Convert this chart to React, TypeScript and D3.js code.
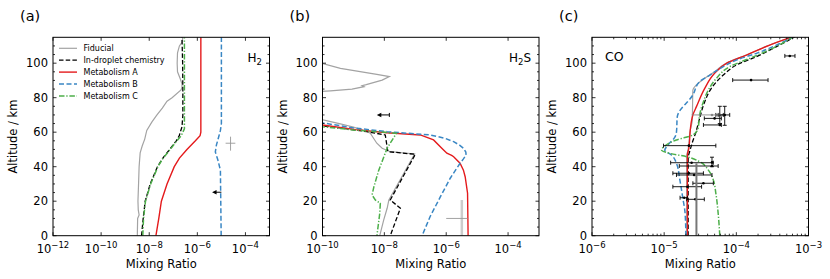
import * as d3 from "d3";
import React from "react";

type Pt = [number, number]; // [altitude km, mixing ratio]

// ---- H2 profiles (panel a) ----
const h2Fiducial: Pt[] = [
  [0, 3.2e-9], [10, 3.3e-9], [12, 3.8e-9], [15, 3.5e-9], [20, 3.4e-9], [30, 3.6e-9],
  [40, 3.8e-9], [48, 4.2e-9], [52, 5.1e-9], [56, 6.5e-9], [61, 7.9e-9], [66, 1.3e-8],
  [70, 2.1e-8], [74, 3.5e-8], [78, 5.5e-8], [80, 8.9e-8], [84.5, 2.1e-7], [86, 2.3e-7],
  [88, 2.3e-7], [91, 1.95e-7], [95, 1.5e-7], [100, 1.45e-7], [106, 1.5e-7], [110, 1.8e-7],
  [112, 2.3e-7], [115, 2.5e-7],
];
const h2Droplet: Pt[] = [
  [0, 4.8e-9], [10, 5.6e-9], [20, 6.8e-9], [30, 1.1e-8], [40, 2.2e-8], [45, 3.7e-8],
  [50, 7.1e-8], [55, 1.33e-7], [58, 1.78e-7], [60, 1.95e-7], [63, 2.3e-7], [70, 2.5e-7],
  [85, 2.5e-7], [100, 2.45e-7], [115, 2.3e-7],
];
const h2MetA: Pt[] = [
  [0, 1.9e-8], [10, 2.5e-8], [20, 3.2e-8], [30, 5.5e-8], [40, 1.1e-7], [45, 1.8e-7],
  [50, 3.7e-7], [55, 8.3e-7], [58, 1.3e-6], [60, 1.4e-6], [115, 1.4e-6],
];
const h2MetB: Pt[] = [
  [0, 9.8e-6], [38, 9.1e-6], [44, 7.1e-6], [48.5, 5.6e-6], [52.5, 6.2e-6], [57.5, 7.8e-6],
  [61, 9.1e-6], [65, 1.0e-5], [115, 1.0e-5],
];
const h2MetC: Pt[] = [
  [0, 5.4e-9], [10, 5.8e-9], [20, 7.0e-9], [30, 1.15e-8], [40, 2.3e-8], [45, 3.8e-8],
  [50, 7.5e-8], [55, 1.4e-7], [58, 2.15e-7], [62, 2.9e-7], [115, 2.9e-7],
];

// ---- H2S profiles (panel b) ----
const h2sFiducial: Pt[] = [
  [100.5, 7e-11], [97, 3.8e-10], [93.5, 5.7e-9], [92.2, 1.45e-8], [90.2, 8.5e-9],
  [87.6, 2.6e-9], [87, 1.9e-9], [86.4, 2.2e-9], [85, 9e-10], [84, 1.8e-10], [83.4, 7e-11],
  [75, 1e-11], [67.8, 7e-11], [65, 3.5e-10], [63, 1.0e-9], [60.5, 2.6e-9], [59.4, 3.5e-9],
  [53.6, 5.7e-9], [50.7, 8.5e-9], [48.7, 1.55e-8], [47.4, 9.5e-8], [20.7, 1.4e-8],
  [15.9, 1.23e-8], [9, 9.5e-9], [0, 7.1e-9],
];
const h2sDroplet: Pt[] = [
  [64.6, 7e-11], [63.6, 1.1e-10], [62.5, 3.8e-10], [60.3, 2.75e-9], [58.4, 1.07e-8],
  [48.7, 1.3e-8], [47.2, 1.0e-7], [20.7, 1.55e-8], [15.9, 3.3e-8], [0, 1.55e-8],
];
const h2sMetA: Pt[] = [
  [64.5, 8e-11], [64.2, 1e-10], [61.5, 1.2e-9], [59.7, 1.23e-8], [58.4, 1.45e-7],
  [55.5, 3.9e-7], [50.7, 7.2e-7], [47.8, 1.05e-6], [46.5, 1.5e-6], [45.8, 1.74e-6],
  [42, 2.8e-6], [38, 3.6e-6], [34.2, 4.1e-6], [24.6, 4.9e-6], [0, 5.1e-6],
];
const h2sMetB: Pt[] = [
  [65.6, 8e-11], [65.4, 1e-10], [62.5, 1.0e-9], [60.3, 1.23e-8], [58.4, 3.0e-7],
  [56.5, 9e-7], [54.5, 1.74e-6], [52.5, 2.7e-6], [50.7, 3.6e-6], [48.5, 4.3e-6],
  [46.8, 4.4e-6], [44.5, 3.6e-6], [42, 2.8e-6], [33.3, 1.35e-6], [22.6, 6.5e-7],
  [11, 3.0e-7], [0, 1.66e-7],
];
const h2sMetC: Pt[] = [
  [63.6, 8e-11], [63.2, 1e-10], [61.3, 1.0e-9], [59.4, 2.45e-8], [50.7, 1.23e-8],
  [38, 6.6e-9], [28.4, 4.6e-9], [23.6, 4.0e-9], [20.7, 5.1e-9], [18.8, 7.4e-9],
  [13, 7.1e-9], [0, 5.75e-9],
];

// ---- CO profiles (panel c) ----
const coFiducial: Pt[] = [
  [0, 2.05e-5], [46, 2.05e-5], [50, 2.15e-5], [61, 2.3e-5], [67, 2.45e-5], [84.5, 2.5e-5],
  [87.4, 2.8e-5], [91.2, 3.65e-5], [95, 5.0e-5], [100, 7.2e-5], [104.7, 1.38e-4],
  [110.5, 2.9e-4], [115.5, 6.2e-4],
];
const coDroplet: Pt[] = [
  [0, 2.15e-5], [45, 2.15e-5], [50, 2.3e-5], [55, 2.5e-5], [60, 2.75e-5], [68, 3.1e-5],
  [77.7, 3.65e-5], [85.4, 4.5e-5], [93.1, 6.6e-5], [98.9, 1.0e-4], [103.8, 1.9e-4],
  [109.6, 3.6e-4], [115.5, 6.6e-4],
];
const coMetA: Pt[] = [
  [0, 2.1e-5], [28, 2.1e-5], [46.8, 2.1e-5], [50.7, 2.2e-5], [61.3, 2.3e-5], [67, 2.4e-5],
  [70, 2.5e-5], [74.8, 2.8e-5], [85.4, 3.65e-5], [94.1, 5.0e-5], [99.9, 7.3e-5],
  [104.7, 1.38e-4], [110.5, 2.9e-4], [115.5, 6.2e-4],
];
const coMetB: Pt[] = [
  [0, 2.0e-5], [13, 1.95e-5], [22.6, 1.8e-5], [32.3, 1.65e-5], [42, 1.48e-5],
  [46.8, 1.26e-5], [49.5, 1.02e-5], [53, 1.15e-5], [57, 1.4e-5], [60, 1.48e-5],
  [69, 1.52e-5], [81.6, 2.5e-5], [89.3, 3.1e-5], [93.1, 4.3e-5], [98, 6.6e-5],
  [101.8, 1.0e-4], [105.7, 1.9e-4], [110, 3.4e-4], [115.5, 6.3e-4],
];
const coMetC: Pt[] = [
  [0, 5.9e-5], [13, 5.6e-5], [24.6, 5.2e-5], [32.3, 4.8e-5], [38, 4.1e-5], [42.9, 3.1e-5],
  [45.8, 2.05e-5], [47.7, 1.2e-5], [49.7, 9.2e-6], [52, 1.02e-5], [55.5, 1.48e-5],
  [58.4, 2.5e-5], [62.2, 2.95e-5], [70, 3.1e-5], [77.7, 3.5e-5], [84.5, 4.1e-5],
  [91.2, 5.3e-5], [98, 8.1e-5], [102.8, 1.53e-4], [108.6, 3.2e-4], [115.5, 6.2e-4],
];

// observations: [altitude, value, xLo, xHi]
const coObs: [number, number, number, number][] = [
  [104.2, 5.5e-4, 4.7e-4, 6.5e-4],
  [90.2, 1.6e-4, 8.9e-5, 2.75e-4],
  [68, 5.0e-5, 3.6e-5, 6.2e-5],
  [64.2, 5.9e-5, 3.5e-5, 6.2e-5],
  [52.2, 2.2e-5, 9.8e-6, 5.2e-5],
  [42.3, 2.4e-5, 1.23e-5, 4.8e-5],
  [40.4, 4.6e-5, 1.62e-5, 5.6e-5],
  [36.2, 2.2e-5, 1.32e-5, 3.5e-5],
  [35.2, 2.6e-5, 1.48e-5, 4.6e-5],
  [30.4, 3.5e-5, 2.5e-5, 4.8e-5],
  [28.4, 2.1e-5, 1.32e-5, 3.3e-5],
  [22, 1.9e-5, 1.66e-5, 2.1e-5],
  [21.1, 2.7e-5, 2.05e-5, 3.6e-5],
];
// observations with altitude range: [altitude, value, altLo, altHi, xLo, xHi]
const coObsAlt: [number, number, number, number, number, number][] = [
  [70, 6.9e-5, 64, 75, 5.6e-5, 8.1e-5],
  [70, 5.9e-5, 65, 75, 5.2e-5, 6.6e-5],
  [42.5, 4.6e-5, 40, 45.5, 4.6e-5, 4.6e-5],
];

const legendNames = ["Fiducial", "In-droplet chemistry", "Metabolism A", "Metabolism B", "Metabolism C"];
const altMajor = [0, 20, 40, 60, 80, 100];

const GRAY = "#a3a3a3";
const RED = "#e41a1c";
const BLUE = "#3a87c4";
const GREEN = "#4daf4a";

const styles = [
  { color: GRAY, dash: undefined as string | undefined, width: 1.2 },
  { color: "#000", dash: "4.5,2.2", width: 1.3 },
  { color: RED, dash: undefined, width: 1.4 },
  { color: BLUE, dash: "5,2.5", width: 1.5 },
  { color: GREEN, dash: "5.5,1.8,1.3,1.8", width: 1.5 },
];

const TOP = 37.3;
const BOTTOM = 235.7;
const W = 216.5;
const FONT = "DejaVu Sans";

interface Bar {
  alt: number; x: number; xLo?: number; xHi?: number; altLo?: number; altHi?: number;
  color: string; width?: number; cap?: number; marker?: boolean;
}
interface Limit { alt: number; from: number; to: number; cap?: boolean }

interface PanelProps {
  left: number;
  domain: [number, number];
  labeled: number[];
  minors: number[];
  letter: string;
  species: React.ReactNode;
  series: Pt[][];
  bars?: Bar[];
  limits?: Limit[];
  legend?: boolean;
  smooth?: boolean;
}

function expLabel(v: number) {
  const e = Math.round(Math.log10(v));
  return (
    <>
      <tspan>10</tspan>
      <tspan dy={-5.5} fontSize={8.5}>{e < 0 ? `\u2212${-e}` : `${e}`}</tspan>
    </>
  );
}

function Panel({ left, domain, labeled, minors, letter, species, series, bars = [], limits = [], legend, smooth }: PanelProps) {
  const right = left + W;
  const x = d3.scaleLog().domain(domain).range([left, right]);
  const y = d3.scaleLinear().domain([0, 115]).range([BOTTOM, TOP]);
  const line = d3
    .line<Pt>()
    .x((d) => x(d[1]))
    .y((d) => y(d[0]))
    .curve(smooth ? d3.curveMonotoneY : d3.curveLinear);
  const clipId = `clip-${letter}`;
  const altMinor = d3.range(5, 115, 5).filter((v) => v % 20 !== 0);

  return (
    <g fontFamily={FONT}>
      <defs>
        <clipPath id={clipId}>
          <rect x={left} y={TOP} width={W} height={BOTTOM - TOP} />
        </clipPath>
      </defs>

      <g clipPath={`url(#${clipId})`}>
        {series.map((s, i) => (
          <path key={i} d={line(s) ?? ""} fill="none" stroke={styles[i].color}
            strokeWidth={styles[i].width} strokeDasharray={styles[i].dash} />
        ))}

        {bars.map((b, i) => {
          const cy = y(b.alt);
          const cx = x(b.x);
          const cap = b.cap ?? 0;
          const sw = b.width ?? 0.9;
          return (
            <g key={`bar-${i}`} stroke={b.color} strokeWidth={sw}>
              {b.xLo !== undefined && b.xHi !== undefined && b.xLo !== b.xHi && (
                <>
                  <line x1={x(b.xLo)} x2={x(b.xHi)} y1={cy} y2={cy} />
                  {cap > 0 && <line x1={x(b.xLo)} x2={x(b.xLo)} y1={cy - cap} y2={cy + cap} />}
                  {cap > 0 && <line x1={x(b.xHi)} x2={x(b.xHi)} y1={cy - cap} y2={cy + cap} />}
                </>
              )}
              {b.altLo !== undefined && b.altHi !== undefined && (
                <>
                  <line x1={cx} x2={cx} y1={y(b.altLo)} y2={y(b.altHi)} />
                  {cap > 0 && <line x1={cx - cap} x2={cx + cap} y1={y(b.altLo)} y2={y(b.altLo)} />}
                  {cap > 0 && <line x1={cx - cap} x2={cx + cap} y1={y(b.altHi)} y2={y(b.altHi)} />}
                </>
              )}
              {b.marker && <circle cx={cx} cy={cy} r={1.3} fill={b.color} stroke="none" />}
            </g>
          );
        })}

        {limits.map((l, i) => {
          const cy = y(l.alt);
          const x1 = x(l.from);
          const x2 = x(l.to);
          return (
            <g key={`lim-${i}`} stroke="#000" strokeWidth={1}>
              <line x1={x1} x2={x2 + 3} y1={cy} y2={cy} />
              <polygon points={`${x2},${cy} ${x2 + 4.5},${cy - 2.2} ${x2 + 4.5},${cy + 2.2}`} fill="#000" stroke="none" />
              {l.cap && <line x1={x1} x2={x1} y1={cy - 2} y2={cy + 2} />}
            </g>
          );
        })}
      </g>

      {/* frame */}
      <rect x={left} y={TOP} width={W} height={BOTTOM - TOP} fill="none" stroke="#000" strokeWidth={1} />

      {/* ticks, pointing inwards on all four sides */}
      <g stroke="#000" strokeWidth={0.8}>
        {labeled.map((t) => (
          <g key={`xt-${t}`}>
            <line x1={x(t)} x2={x(t)} y1={BOTTOM} y2={BOTTOM - 3.5} />
            <line x1={x(t)} x2={x(t)} y1={TOP} y2={TOP + 3.5} />
          </g>
        ))}
        {minors.map((t) => (
          <g key={`xm-${t}`}>
            <line x1={x(t)} x2={x(t)} y1={BOTTOM} y2={BOTTOM - 2} />
            <line x1={x(t)} x2={x(t)} y1={TOP} y2={TOP + 2} />
          </g>
        ))}
        {altMajor.map((t) => (
          <g key={`yt-${t}`}>
            <line x1={left} x2={left + 3.5} y1={y(t)} y2={y(t)} />
            <line x1={right} x2={right - 3.5} y1={y(t)} y2={y(t)} />
          </g>
        ))}
        {altMinor.map((t) => (
          <g key={`ym-${t}`}>
            <line x1={left} x2={left + 2} y1={y(t)} y2={y(t)} />
            <line x1={right} x2={right - 2} y1={y(t)} y2={y(t)} />
          </g>
        ))}
      </g>

      {/* tick labels */}
      {labeled.map((t) => (
        <text key={`xl-${t}`} x={x(t)} y={253} fontSize={11.5} textAnchor="middle">
          {expLabel(t)}
        </text>
      ))}
      {altMajor.map((t) => (
        <text key={`yl-${t}`} x={left - 5} y={y(t) + 4.1} fontSize={11.5} textAnchor="end">
          {t}
        </text>
      ))}

      <text x={(left + right) / 2} y={267.5} fontSize={11.5} textAnchor="middle">Mixing Ratio</text>
      <text transform={`translate(${left - 36},${(TOP + BOTTOM) / 2}) rotate(-90)`} fontSize={11.5} textAnchor="middle">
        Altitude / km
      </text>
      <text x={left - 33} y={20.5} fontSize={14.5}>({letter})</text>
      {species}

      {legend && (
        <g>
          {legendNames.map((n, i) => {
            const ly = 48.3 + i * 11.9;
            return (
              <g key={n}>
                <line x1={left + 6} x2={left + 24} y1={ly} y2={ly} stroke={styles[i].color}
                  strokeWidth={styles[i].width} strokeDasharray={styles[i].dash} />
                <text x={left + 30.5} y={ly + 2.9} fontSize={8}>{n}</text>
              </g>
            );
          })}
        </g>
      )}
    </g>
  );
}

export default function App() {
  const leftA = 53;
  const leftB = 322.5;
  const leftC = 592;
  const coMinors: number[] = [];
  [-6, -5, -4].forEach((e) => d3.range(2, 10).forEach((k) => coMinors.push(k * 10 ** e)));

  const coBars: Bar[] = [
    ...coObs.map((o) => ({ alt: o[0], x: o[1], xLo: o[2], xHi: o[3], color: "#000", cap: 2, marker: true })),
    ...coObsAlt.map((o) => ({ alt: o[0], x: o[1], altLo: o[2], altHi: o[3], xLo: o[4], xHi: o[5], color: "#000", cap: 2, marker: true })),
    { alt: 70, x: 4.6e-5, xLo: 2.4e-5, xHi: 6.2e-5, color: "#888", cap: 0, marker: true },
    { alt: 21, x: 2.8e-5, altLo: 0, altHi: 42, color: "#777", width: 2, cap: 0 },
  ];

  return (
    <svg width={830} height={279} style={{ position: "absolute", left: 0, top: 0, background: "#fff" }}>
      <Panel
        left={leftA}
        domain={[1e-12, 1e-3]}
        labeled={[1e-12, 1e-10, 1e-8, 1e-6, 1e-4]}
        minors={[]}
        letter="a"
        species={
          <text x={262} y={61.5} fontSize={12} fontFamily={FONT} textAnchor="end">
            H<tspan dy={3} fontSize={8.5}>2</tspan>
          </text>
        }
        series={[h2Fiducial, h2Droplet, h2MetA, h2MetB, h2MetC]}
        bars={[{ alt: 53.6, x: 2.4e-5, xLo: 1.5e-5, xHi: 3.8e-5, altLo: 49.3, altHi: 57.4, color: "#999", width: 0.9 }]}
        limits={[{ alt: 25.2, from: 1.0e-5, to: 4.1e-6 }]}
        legend
      />
      <Panel
        left={leftB}
        domain={[1e-10, 1e-3]}
        labeled={[1e-10, 1e-8, 1e-6, 1e-4]}
        minors={[]}
        letter="b"
        species={
          <text x={531} y={61.5} fontSize={12} fontFamily={FONT} textAnchor="end">
            H<tspan dy={3} fontSize={8.5}>2</tspan><tspan dy={-3}>S</tspan>
          </text>
        }
        series={[h2sFiducial, h2sDroplet, h2sMetA, h2sMetB, h2sMetC]}
        bars={[
          { alt: 10, x: 3.2e-6, altLo: 0, altHi: 20.7, color: "#cccccc", width: 2.5 },
          { alt: 10, x: 3.2e-6, xLo: 1.0e-6, xHi: 4.9e-6, color: "#999", width: 0.9 },
        ]}
        limits={[{ alt: 70, from: 1.45e-8, to: 5.7e-9, cap: true }]}
      />
      <Panel
        left={leftC}
        domain={[1e-6, 1e-3]}
        labeled={[1e-6, 1e-5, 1e-4, 1e-3]}
        minors={coMinors}
        letter="c"
        species={
          <text x={605} y={61} fontSize={12.5} fontFamily={FONT}>CO</text>
        }
        series={[coFiducial, coDroplet, coMetA, coMetB, coMetC]}
        bars={coBars}
        smooth
      />
    </svg>
  );
}
